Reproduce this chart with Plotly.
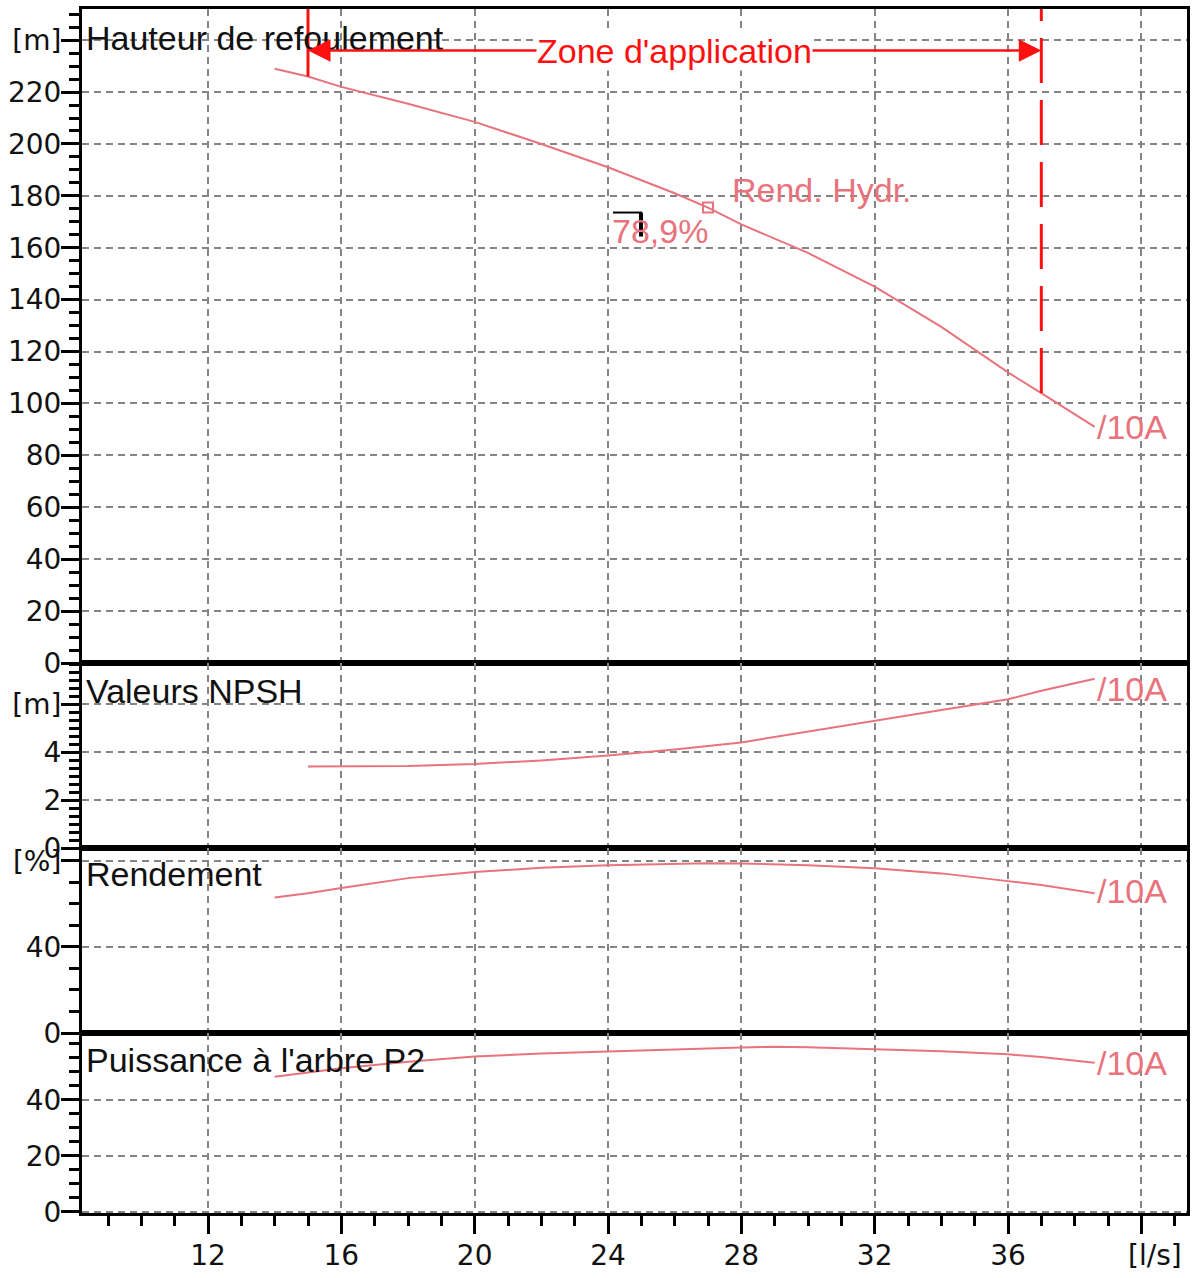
import numpy as np
import plotly.graph_objects as go

# ---- pump characteristic data (flow in l/s) ----
flow_head = [14, 15, 16, 18, 20, 22, 24, 26, 27, 28, 30, 32, 34, 36, 37, 38.6]
head_m = [229, 226, 222, 215.5, 208.5, 200, 191, 181, 175.5, 169, 158, 145, 129.5, 112, 104, 91]

flow_npsh = [15, 16, 18, 20, 22, 24, 26, 28, 30, 32, 34, 36, 37, 38.6]
npsh_m = [3.4, 3.4, 3.42, 3.5, 3.65, 3.85, 4.1, 4.4, 4.85, 5.3, 5.75, 6.2, 6.55, 7.05]

flow_eff = [14, 15, 16, 18, 20, 22, 24, 26, 27, 28, 30, 32, 34, 36, 37, 38.6]
eff_pct = [63, 65, 67.4, 72, 74.8, 76.8, 78.0, 78.7, 78.9, 78.8, 78, 76.6, 74.2, 70.6, 68.8, 65]

flow_p2 = [14, 15, 16, 18, 20, 22, 24, 26, 28, 29, 30, 32, 34, 36, 37, 38.6]
p2 = [48.3, 49.8, 51.3, 53.6, 55.5, 56.6, 57.4, 58, 58.7, 59.0, 58.8, 58.2, 57.4, 56.3, 55.3, 53.3]

zone_min, zone_max = 15, 37          # application range
bep_flow = 27.0                      # best efficiency point
bep_eff_label = "78,9%"
curve_name = "/10A"

x_ticks = [12, 16, 20, 24, 28, 32, 36, 40]
x_ticktext = ["12", "16", "20", "24", "28", "32", "36", ""]

head_ticks = list(range(0, 241, 20))
head_ticktext = [str(v) for v in range(0, 221, 20)] + ["[m]"]
npsh_ticks = [0, 2, 4, 6]
npsh_ticktext = ["0", "2", "4", "[m]"]
eff_ticks = [0, 40, 80]
eff_ticktext = ["0", "40", "[%]"]
p2_ticks = [0, 20, 40]
p2_ticktext = ["0", "20", "40"]

titles = ["Hauteur de refoulement", "Valeurs NPSH", "Rendement", "Puissance à l'arbre P2"]

# ---- styling ----
CURVE = "#E8737D"
RED = "#FF1010"
GRID = "#858585"
TXT = 34
TITLE_FONT = dict(family="Liberation Sans, Arial", size=TXT, color="#111111")
TICK_FONT = dict(family="DejaVu Sans", size=28, color="#111111")
LABEL_FONT = dict(family="Liberation Sans, Arial", size=TXT, color=CURVE)

W, H = 1194, 1278
ML, MR, MT, MB = 82, 7, 9, 65
plot_h = H - MT - MB


def frac(py):
    return (H - MB - py) / plot_h


domains = {
    "y": [frac(663), 1.0],
    "y2": [frac(848), frac(663)],
    "y3": [frac(1033), frac(848)],
    "y4": [0.0, frac(1033)],
}

fig = go.Figure()

line = dict(color=CURVE, width=2)
fig.add_trace(go.Scatter(x=flow_head, y=head_m, mode="lines", line=line, xaxis="x", yaxis="y", hoverinfo="skip"))
fig.add_trace(go.Scatter(x=flow_npsh, y=npsh_m, mode="lines", line=line, xaxis="x2", yaxis="y2", hoverinfo="skip"))
fig.add_trace(go.Scatter(x=flow_eff, y=eff_pct, mode="lines", line=line, xaxis="x3", yaxis="y3", hoverinfo="skip"))
fig.add_trace(go.Scatter(x=flow_p2, y=p2, mode="lines", line=line, xaxis="x4", yaxis="y4", hoverinfo="skip"))

# best efficiency point marker on the head curve
bep_head = float(np.interp(bep_flow, flow_head, head_m))
fig.add_trace(go.Scatter(x=[bep_flow], y=[bep_head], mode="markers", xaxis="x", yaxis="y",
                         marker=dict(symbol="square-open", size=10, color=CURVE, line=dict(width=2, color=CURVE)),
                         hoverinfo="skip"))

x_range = [8.22, 41.37]
common_x = dict(range=x_range, showline=True, linewidth=3, linecolor="black", mirror=True,
                tickmode="array", tickvals=x_ticks, showgrid=True, gridcolor=GRID, gridwidth=2,
                griddash="7px,5px", zeroline=False, automargin=False)

layout = dict(
    width=W, height=H, margin=dict(l=ML, r=MR, t=MT, b=MB, autoexpand=False),
    paper_bgcolor="white", plot_bgcolor="white", showlegend=False,
)

# bottom x axis with ticks; the others share its range
layout["xaxis4"] = dict(common_x, anchor="y4", ticktext=x_ticktext, ticks="outside", ticklen=18,
                        tickwidth=2.5, tickcolor="black", tickfont=TICK_FONT, ticklabelstandoff=-3,
                        minor=dict(dtick=1, tick0=0, ticks="outside", ticklen=10, tickwidth=2.5,
                                   tickcolor="black", showgrid=False))
for ax, anc in (("xaxis", "y"), ("xaxis2", "y2"), ("xaxis3", "y3")):
    layout[ax] = dict(common_x, anchor=anc, showticklabels=False, ticks="", matches="x4")

y_specs = {
    "yaxis": ([0, 252.0], head_ticks, head_ticktext, 5),
    "yaxis2": ([0, 7.71], npsh_ticks, npsh_ticktext, 1 / 3),
    "yaxis3": ([0, 86.0], eff_ticks, eff_ticktext, 10),
    "yaxis4": ([-0.36, 63.9], p2_ticks, p2_ticktext, 5),
}
for i, (ax, (rng, tv, tt, mdt)) in enumerate(y_specs.items()):
    key = "y" if i == 0 else f"y{i + 1}"
    xa = "x" if i == 0 else f"x{i + 1}"
    layout[ax] = dict(domain=domains[key], anchor=xa, range=rng, tickmode="array", tickvals=tv, ticktext=tt,
                      showline=True, linewidth=3, linecolor="black", mirror=True,
                      ticks="outside", ticklen=18, tickwidth=2.5, tickcolor="black",
                      tickfont=TICK_FONT, ticklabelstandoff=-6, automargin=False,
                      showgrid=True, gridcolor=GRID, gridwidth=2, griddash="7px,5px", zeroline=False,
                      minor=dict(dtick=mdt, tick0=0, ticks="outside", ticklen=10, tickwidth=2.5,
                                 tickcolor="black", showgrid=False))

fig.update_layout(**layout)

annotations = []
# panel titles
title_pos = [("y", 240.8), ("y2", 6.53), ("y3", 73.8), ("y4", 54.3)]
for text, (yref, yv) in zip(titles, title_pos):
    annotations.append(dict(text=text, xref="paper", x=0, xanchor="left", xshift=2,
                            yref=yref, y=yv, yanchor="middle", showarrow=False, font=TITLE_FONT))

# curve name at the end of each curve
ends = [("x", "y", flow_head, head_m, 0), ("x2", "y2", flow_npsh, npsh_m, -10),
        ("x3", "y3", flow_eff, eff_pct, 2), ("x4", "y4", flow_p2, p2, 0)]
for xr, yr, fx, fy, ys in ends:
    annotations.append(dict(text=curve_name, xref=xr, yref=yr, x=fx[-1], y=fy[-1], xanchor="left",
                            yanchor="middle", xshift=0, yshift=ys, showarrow=False, font=LABEL_FONT))

# best efficiency point labels
annotations.append(dict(text="Rend. Hydr.", xref="x", yref="y", x=bep_flow, y=bep_head, xanchor="left",
                        yanchor="middle", xshift=22, yshift=18, showarrow=False, font=LABEL_FONT))
annotations.append(dict(text=bep_eff_label, xref="x", yref="y", x=bep_flow, y=bep_head, xanchor="right",
                        yanchor="middle", xshift=2, yshift=-23, showarrow=False, font=LABEL_FONT))

# application range arrows
zone_y = 236.0
zone_mid = (zone_min + zone_max) / 2
for end in (zone_min, zone_max):
    annotations.append(dict(text="", xref="x", yref="y", x=end, y=zone_y, axref="x", ayref="y",
                            ax=zone_mid, ay=zone_y, showarrow=True, arrowhead=2, arrowsize=1.8,
                            arrowwidth=2.5, arrowcolor=RED))
annotations.append(dict(text="Zone d'application", xref="x", yref="y", x=zone_mid, y=zone_y,
                        yanchor="middle", showarrow=False, bgcolor="white", borderpad=0,
                        font=dict(family="Liberation Sans, Arial", size=TXT, color=RED)))

# flow unit label at the end of the x axis
annotations.append(dict(text="[l/s]", xref="x4", yref="paper", x=40, xshift=14, y=0, yshift=-42,
                        yanchor="middle", showarrow=False, font=TICK_FONT))

fig.update_layout(annotations=annotations)

# application range boundaries
head_lo = float(np.interp(zone_min, flow_head, head_m))
head_hi = float(np.interp(zone_max, flow_head, head_m))
shapes = [
    dict(type="line", xref="x", yref="y", x0=zone_min, x1=zone_min, y0=head_lo, y1=252.0,
         line=dict(color=RED, width=3)),
    dict(type="line", xref="x", yref="y", x0=zone_max, x1=zone_max, y0=head_hi, y1=252.0,
         line=dict(color=RED, width=3, dash="45px,17px")),
    # small black cursor mark beside the efficiency label
    dict(type="line", xref="x", yref="y", xsizemode="pixel", ysizemode="pixel",
         xanchor=bep_flow, yanchor=bep_head, x0=-95, x1=-66, y0=-5, y1=-5,
         line=dict(color="black", width=2), layer="above"),
    dict(type="line", xref="x", yref="y", xsizemode="pixel", ysizemode="pixel",
         xanchor=bep_flow, yanchor=bep_head, x0=-67, x1=-67, y0=-5, y1=-29,
         line=dict(color="black", width=4), layer="above"),
]
fig.update_layout(shapes=shapes)

fig.write_html("out.html")
